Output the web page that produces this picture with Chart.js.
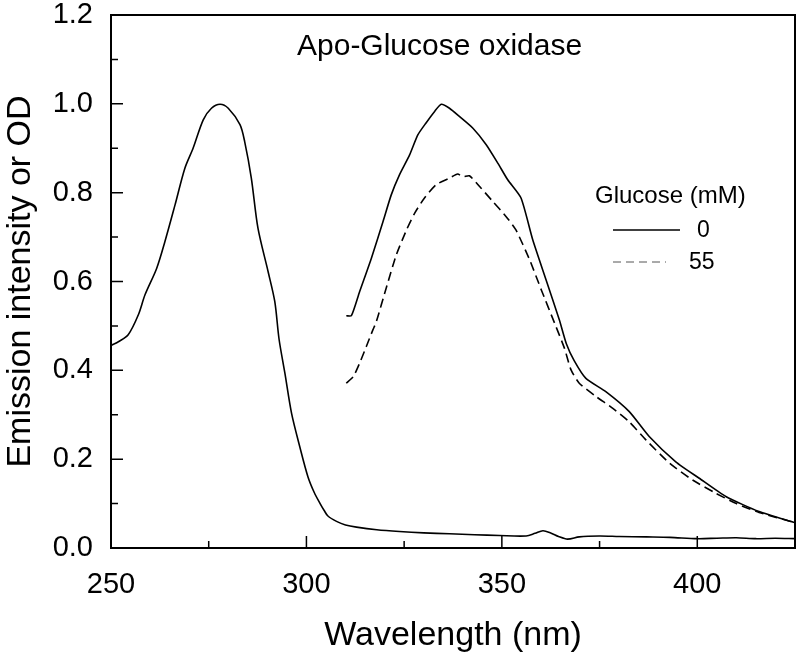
<!DOCTYPE html>
<html>
<head>
<meta charset="utf-8">
<script src="https://cdn.jsdelivr.net/npm/chart.js@4/dist/chart.umd.min.js"></script>
<style>
  body { margin: 0; background: #fff; }
  #wrap { width: 800px; height: 656px; }
</style>
</head>
<body>
<div id="wrap"><canvas id="grafico" width="800" height="656"></canvas></div>
<script>
// absorption spectrum (OD)
const absWavelength = [250, 252, 254.4, 257, 258.7, 261.7, 263.8, 266.4, 268.9, 271, 273.6, 275.7, 277.9, 280, 283, 284.2, 285.9, 287.6, 290.2, 291.9, 293, 294.5, 296.2, 298.3, 300.4, 302, 303.5, 304.5, 305.5, 307.7, 310, 312.8, 318, 323.8, 330, 336.6, 343, 349.4, 356.2, 358.5, 360.5, 362.5, 364.5, 366.8, 369.8, 374.9, 380, 387, 393, 400, 405, 410, 415, 420, 425];
const absValue = [0.456, 0.465, 0.48, 0.525, 0.57, 0.63, 0.69, 0.773, 0.855, 0.9, 0.964, 0.99, 0.999, 0.99, 0.953, 0.915, 0.833, 0.72, 0.622, 0.555, 0.47, 0.393, 0.303, 0.228, 0.16, 0.125, 0.1, 0.085, 0.072, 0.06, 0.052, 0.047, 0.041, 0.037, 0.034, 0.032, 0.03, 0.028, 0.027, 0.033, 0.039, 0.034, 0.026, 0.02, 0.025, 0.027, 0.026, 0.025, 0.024, 0.021, 0.022, 0.023, 0.021, 0.022, 0.021];

// emission, glucose 0 mM
const em0Wavelength = [310.2, 311.5, 313.6, 316.6, 319.6, 321.7, 323.8, 326.4, 328.5, 330.6, 332.8, 334.5, 336.6, 339.2, 342.6, 346, 349, 351.5, 354.9, 357.9, 361.3, 364.7, 366.5, 368.5, 371.5, 376.6, 382.6, 387.7, 394.5, 400.5, 407.3, 415.8, 425];
const em0Value = [0.523, 0.523, 0.577, 0.652, 0.735, 0.795, 0.84, 0.885, 0.93, 0.957, 0.983, 0.999, 0.99, 0.971, 0.945, 0.908, 0.866, 0.829, 0.788, 0.694, 0.604, 0.514, 0.46, 0.422, 0.382, 0.352, 0.307, 0.251, 0.194, 0.157, 0.116, 0.082, 0.057];

// emission, glucose 55 mM
const em55Wavelength = [310.2, 312, 313.6, 315.3, 317, 317.9, 320.4, 323, 325.6, 327.7, 330.2, 333.2, 336.2, 338.7, 340, 341.7, 344.7, 347.7, 351.1, 353.6, 357.1, 360.1, 363.5, 366, 367.7, 369.8, 374.1, 378.3, 382.6, 386.9, 392.9, 398.8, 404.8, 410, 415.8, 425];
const em55Value = [0.371, 0.386, 0.416, 0.453, 0.491, 0.51, 0.585, 0.66, 0.716, 0.754, 0.788, 0.818, 0.831, 0.842, 0.836, 0.838, 0.81, 0.78, 0.746, 0.716, 0.649, 0.581, 0.506, 0.45, 0.401, 0.371, 0.341, 0.315, 0.284, 0.243, 0.191, 0.153, 0.123, 0.1, 0.08, 0.057];

const xTicks = [250, 300, 350, 400];
const xMinorTicks = [275, 325, 375];
const yTicks = [0, 0.2, 0.4, 0.6, 0.8, 1.0, 1.2];
const yMinorTicks = [0.1, 0.3, 0.5, 0.7, 0.9, 1.1];
const legendTitle = "Glucose (mM)";
const legendLabels = ["0", "55"];
const chartTitle = "Apo-Glucose oxidase";

const fonte = "'Liberation Sans', Arial, sans-serif";
const pares = (xs, ys) => xs.map((x, i) => ({ x: x, y: ys[i] }));

// moldura, marcas internas, titulo e legenda
const extras = {
  id: "extras",
  afterDraw(chart) {
    const ctx = chart.ctx;
    const a = chart.chartArea;
    const sx = chart.scales.x, sy = chart.scales.y;
    ctx.save();
    ctx.strokeStyle = "#000";
    ctx.lineWidth = 2;
    ctx.strokeRect(a.left, a.top, a.right - a.left, a.bottom - a.top);

    ctx.lineWidth = 1.5;
    ctx.beginPath();
    xTicks.forEach(v => { const p = sx.getPixelForValue(v); ctx.moveTo(p, a.bottom); ctx.lineTo(p, a.bottom - 12); });
    xMinorTicks.forEach(v => { const p = sx.getPixelForValue(v); ctx.moveTo(p, a.bottom); ctx.lineTo(p, a.bottom - 7); });
    yTicks.forEach(v => { const p = sy.getPixelForValue(v); ctx.moveTo(a.left, p); ctx.lineTo(a.left + 12, p); });
    yMinorTicks.forEach(v => { const p = sy.getPixelForValue(v); ctx.moveTo(a.left, p); ctx.lineTo(a.left + 7, p); });
    ctx.stroke();

    ctx.fillStyle = "#000";
    ctx.textBaseline = "middle";
    ctx.textAlign = "left";
    ctx.font = "30px " + fonte;
    ctx.fillText(chartTitle, 297, 47);

    ctx.font = "24px " + fonte;
    ctx.fillText(legendTitle, 595, 196);
    ctx.font = "23px " + fonte;
    ctx.fillText(legendLabels[0], 697, 231);
    ctx.fillText(legendLabels[1], 689, 263);

    ctx.lineWidth = 1.5;
    ctx.beginPath();
    ctx.moveTo(613, 230); ctx.lineTo(680, 230);
    ctx.stroke();
    ctx.strokeStyle = "#555";
    ctx.lineWidth = 1;
    ctx.setLineDash([8, 5]);
    ctx.beginPath();
    ctx.moveTo(613, 262); ctx.lineTo(666, 262);
    ctx.stroke();
    ctx.restore();
  }
};

new Chart(document.getElementById("grafico"), {
  type: "line",
  data: {
    datasets: [
      {
        label: "Absorbance",
        data: pares(absWavelength, absValue),
        borderColor: "#000",
        borderWidth: 1.6,
        pointRadius: 0,
        tension: 0.3
      },
      {
        label: "0",
        data: pares(em0Wavelength, em0Value),
        borderColor: "#000",
        borderWidth: 1.6,
        pointRadius: 0,
        tension: 0.2
      },
      {
        label: "55",
        data: pares(em55Wavelength, em55Value),
        borderColor: "#000",
        borderWidth: 1.6,
        borderDash: [9, 5],
        pointRadius: 0,
        tension: 0.2
      }
    ]
  },
  options: {
    responsive: false,
    animation: false,
    layout: { padding: { top: 15, right: 5, left: 0, bottom: 0 } },
    scales: {
      x: {
        type: "linear",
        min: 250,
        max: 425,
        afterBuildTicks: s => { s.ticks = xTicks.map(v => ({ value: v })); },
        afterFit: s => { s.height = 108; s.paddingLeft = 0; s.paddingRight = 0; },
        grid: { display: false, drawTicks: false },
        border: { display: false },
        ticks: { color: "#000", padding: 20, maxRotation: 0, font: { family: fonte, size: 29 } },
        title: { display: true, text: "Wavelength (nm)", color: "#000", padding: 0, font: { family: fonte, size: 34 } }
      },
      y: {
        min: 0,
        max: 1.2,
        afterBuildTicks: s => { s.ticks = yTicks.map(v => ({ value: v })); },
        afterFit: s => { s.width = 111; s.paddingTop = 0; s.paddingBottom = 0; },
        grid: { display: false, drawTicks: false },
        border: { display: false },
        ticks: { color: "#000", padding: 18, font: { family: fonte, size: 29 }, callback: v => v.toFixed(1) },
        title: { display: true, text: "Emission intensity or OD", color: "#000", padding: 0, font: { family: fonte, size: 34 } }
      }
    },
    plugins: {
      legend: { display: false },
      tooltip: { enabled: false }
    }
  },
  plugins: [extras]
});
</script>
</body>
</html>
